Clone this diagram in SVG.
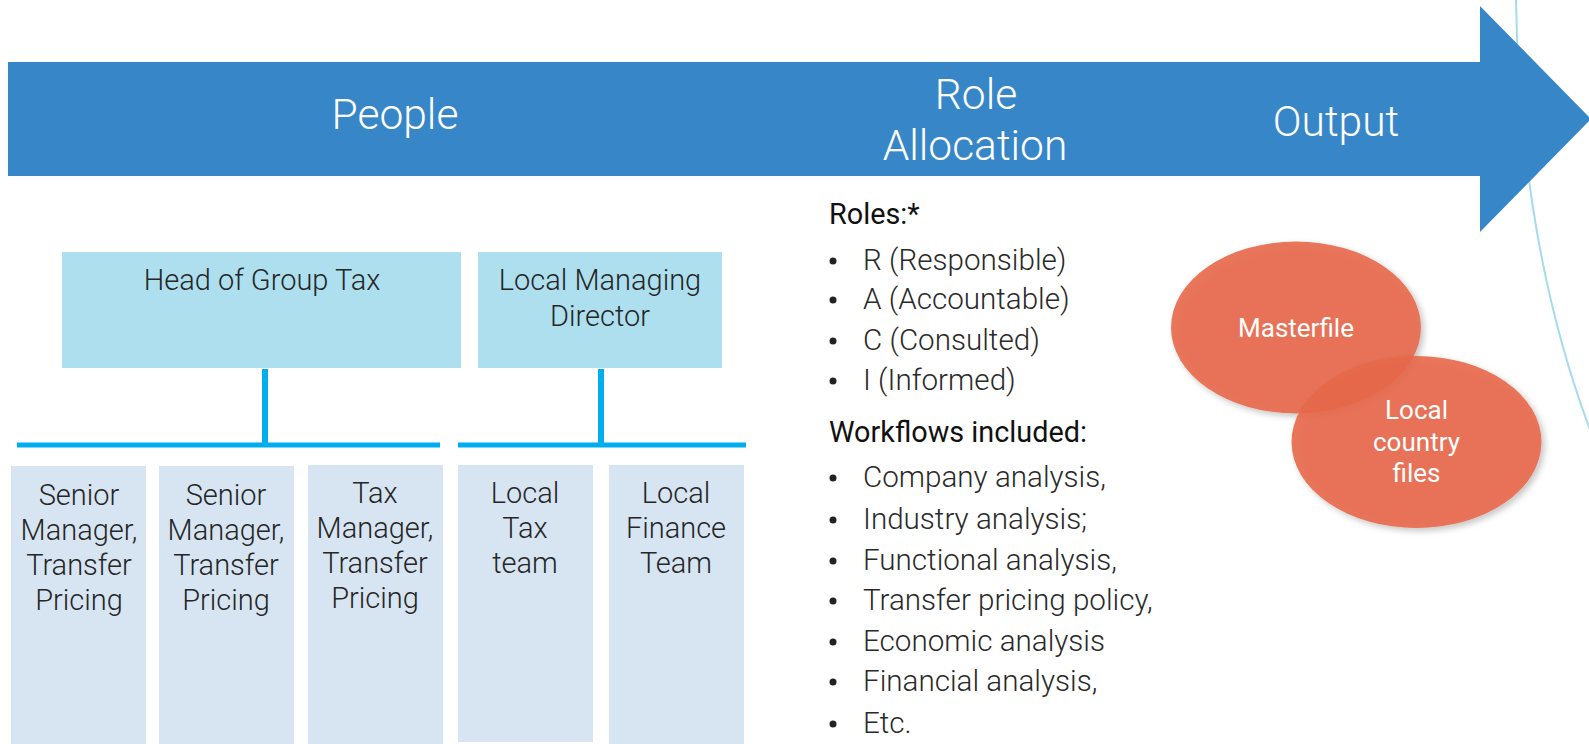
<svg xmlns="http://www.w3.org/2000/svg" width="1589" height="744" viewBox="0 0 1589 744">
<style>
.arrowtxt{font-family:Roboto,"Liberation Sans",sans-serif;font-weight:300;font-size:42.5px;fill:#ffffff;text-anchor:middle}
.boxtxt{font-family:Roboto,"Liberation Sans",sans-serif;font-weight:300;font-size:29px;fill:#262626;text-anchor:middle}
.head{font-family:Roboto,"Liberation Sans",sans-serif;font-weight:400;font-size:28.8px;fill:#111111}
.item{font-family:Roboto,"Liberation Sans",sans-serif;font-weight:300;font-size:29.6px;fill:#2a2a2a}
.bul{fill:#222222}
.top{fill:#ADDFEE}
.sub{fill:#D7E5F2}
.conn{stroke:#00AEEF;stroke-width:5;fill:none}
.ell{fill:#E8684A;fill-opacity:0.9}
.elltxt{font-family:Roboto,"Liberation Sans",sans-serif;font-weight:400;font-size:26px;fill:#ffffff;text-anchor:middle}
</style>
<defs>
<filter id="sh" x="-20%" y="-20%" width="140%" height="140%">
<feDropShadow dx="3" dy="3" stdDeviation="3" flood-color="#000000" flood-opacity="0.25"/>
</filter>
</defs>
<rect width="1589" height="744" fill="#ffffff"/>
<path d="M1516 0 Q1520 250 1594 440" stroke="#A6DBEF" stroke-width="2" fill="none"/>
<g id="arrow">
<path d="M8 62 L1480 62 L1480 6 L1591 119 L1480 232 L1480 176 L8 176 Z" fill="#3787C8"/>
<text class="arrowtxt" x="395" y="129">People</text>
<text class="arrowtxt" x="976" y="109">Role</text>
<text class="arrowtxt" x="975" y="160">Allocation</text>
<text class="arrowtxt" x="1336" y="136">Output</text>
</g>
<g id="connectors">
<line class="conn" x1="265" y1="369" x2="265" y2="445" style="stroke-width:6"/>
<line class="conn" x1="17" y1="445" x2="440" y2="445"/>
<line class="conn" x1="601" y1="369" x2="601" y2="445" style="stroke-width:6"/>
<line class="conn" x1="458" y1="445" x2="746" y2="445"/>
</g>
<g id="head-of-group-tax">
<rect class="top" x="62" y="252" width="399" height="116"/>
<text class="boxtxt" x="262" y="290">Head of Group Tax</text>
</g>
<g id="local-managing-director">
<rect class="top" x="478" y="252" width="244" height="116"/>
<text class="boxtxt" x="600" y="290">Local Managing</text>
<text class="boxtxt" x="600" y="326">Director</text>
</g>
<g id="senior-manager-1">
<rect class="sub" x="11" y="466" width="135" height="278"/>
<text class="boxtxt" x="79" y="505">Senior</text>
<text class="boxtxt" x="79" y="540">Manager,</text>
<text class="boxtxt" x="79" y="575">Transfer</text>
<text class="boxtxt" x="79" y="610">Pricing</text>
</g>
<g id="senior-manager-2">
<rect class="sub" x="159" y="466" width="135" height="278"/>
<text class="boxtxt" x="226" y="505">Senior</text>
<text class="boxtxt" x="226" y="540">Manager,</text>
<text class="boxtxt" x="226" y="575">Transfer</text>
<text class="boxtxt" x="226" y="610">Pricing</text>
</g>
<g id="tax-manager">
<rect class="sub" x="308" y="465" width="135" height="279"/>
<text class="boxtxt" x="375" y="503">Tax</text>
<text class="boxtxt" x="375" y="538">Manager,</text>
<text class="boxtxt" x="375" y="573">Transfer</text>
<text class="boxtxt" x="375" y="608">Pricing</text>
</g>
<g id="local-tax-team">
<rect class="sub" x="458" y="465" width="135" height="277"/>
<text class="boxtxt" x="525" y="503">Local</text>
<text class="boxtxt" x="525" y="538">Tax</text>
<text class="boxtxt" x="525" y="573">team</text>
</g>
<g id="local-finance-team">
<rect class="sub" x="609" y="465" width="135" height="279"/>
<text class="boxtxt" x="676" y="503">Local</text>
<text class="boxtxt" x="676" y="538">Finance</text>
<text class="boxtxt" x="676" y="573">Team</text>
</g>
<g id="roles">
<text class="head" x="829" y="224">Roles:*</text>
<circle class="bul" cx="833" cy="261" r="3.5"/><text class="item" x="863" y="270">R (Responsible)</text>
<circle class="bul" cx="833" cy="300" r="3.5"/><text class="item" x="863" y="309">A (Accountable)</text>
<circle class="bul" cx="833" cy="341" r="3.5"/><text class="item" x="863" y="350">C (Consulted)</text>
<circle class="bul" cx="833" cy="381" r="3.5"/><text class="item" x="863" y="390">I (Informed)</text>
</g>
<g id="workflows">
<text class="head" x="829" y="442">Workflows included:</text>
<circle class="bul" cx="833" cy="478" r="3.5"/><text class="item" x="863" y="487">Company analysis,</text>
<circle class="bul" cx="833" cy="520" r="3.5"/><text class="item" x="863" y="529">Industry analysis;</text>
<circle class="bul" cx="833" cy="561" r="3.5"/><text class="item" x="863" y="570">Functional analysis,</text>
<circle class="bul" cx="833" cy="601" r="3.5"/><text class="item" x="863" y="610">Transfer pricing policy,</text>
<circle class="bul" cx="833" cy="642" r="3.5"/><text class="item" x="863" y="651">Economic analysis</text>
<circle class="bul" cx="833" cy="682" r="3.5"/><text class="item" x="863" y="691">Financial analysis,</text>
<circle class="bul" cx="833" cy="724" r="3.5"/><text class="item" x="863" y="733">Etc.</text>
</g>
<g id="masterfile">
<ellipse class="ell" cx="1296" cy="327.5" rx="125" ry="86" filter="url(#sh)"/>
<text class="elltxt" x="1296" y="337">Masterfile</text>
</g>
<g id="local-country-files">
<ellipse class="ell" cx="1416.5" cy="442" rx="125" ry="86" filter="url(#sh)"/>
<text class="elltxt" x="1416.5" y="419">Local</text>
<text class="elltxt" x="1416.5" y="451">country</text>
<text class="elltxt" x="1416.5" y="482">files</text>
</g>
</svg>
